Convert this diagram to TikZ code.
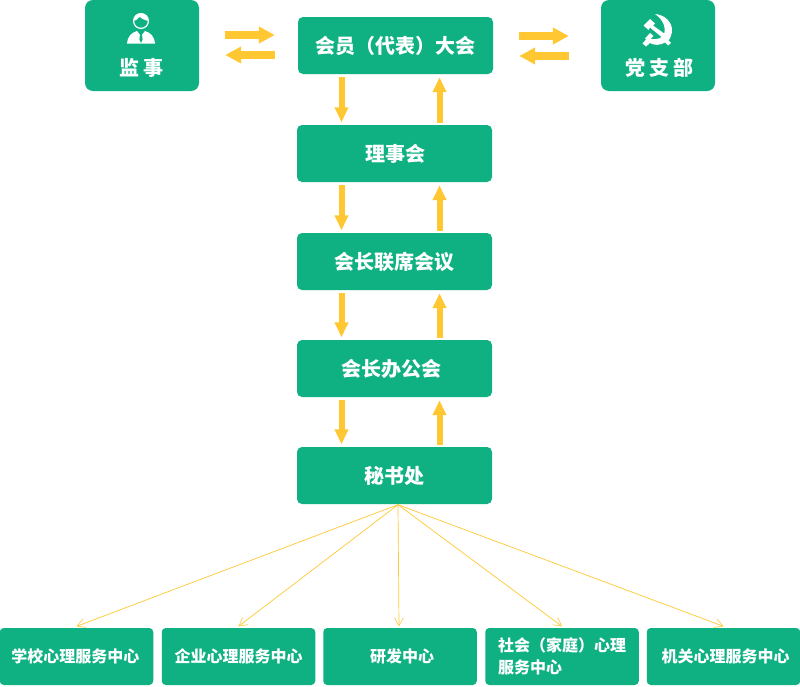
\documentclass[tikz,border=0pt]{standalone}
\usepackage{fontspec}
\usetikzlibrary{arrows.meta,calc}
\newfontfamily\cjk{Noto Sans CJK SC}
\definecolor{boxgreen}{HTML}{0FB183}
\definecolor{amber}{HTML}{FFC832}
\newcommand{\nudge}[1]{\kern #1pt\kern #1pt\relax}
\tikzset{
  box/.style={fill=boxgreen,draw=none,rounded corners=5pt,inner sep=0pt,text=white,font=\cjk\bfseries\fontsize{20}{22}\selectfont,minimum width=195pt,minimum height=57pt},
  side/.style={box,minimum width=114pt,minimum height=91pt,rounded corners=8pt},
  leaf/.style={box,minimum width=153.5pt,minimum height=57pt,rounded corners=4pt,font=\cjk\bfseries\fontsize{16}{22}\selectfont},
  caption/.style={inner sep=0pt,text=white,font=\cjk\bfseries\fontsize{20}{22}\selectfont},
  hblock/.style={draw=amber,line width=8pt,-{Triangle[length=16pt,width=16pt]}},
  vblock/.style={draw=amber,line width=6pt,-{Triangle[length=15pt,width=13pt]}},
  thin/.style={draw=amber,line width=.7pt,-{Straight Barb[length=8pt,width=9pt,line width=.6pt]}}
}
\begin{document}
\begin{tikzpicture}[x=1pt,y=-1pt]
\useasboundingbox (0,0) rectangle (800,686);
\fill[white] (0,0) rectangle (800,686);
\node[side] (js) at (142,45.5) {};
\node[side] (dzb) at (658,45.5) {};
\node[box] (hy) at (395.5,45.5) {会员（代表）大会};
\node[box] (lsh) at (394.5,153.5) {\nudge{1}理事会};
\node[box] (lx) at (394.5,261.5) {会长联席会议};
\node[box] (bg) at (394.5,368.5) {\nudge{-3.5}会长办公会};
\node[box] (ms) at (394.5,475.5) {秘书处};
\node[leaf] (c1) at (76.5,656.5) {\nudge{-1}学校心理服务中心};
\node[leaf] (c2) at (238.5,656.5) {企业心理服务中心};
\node[leaf] (c3) at (400,656.5) {\nudge{2}研发中心};
\node[leaf,align=left] (c4) at (562,656.5) {社会（家庭）心理\\服务中心};
\node[leaf] (c5) at (723.5,656.5) {\nudge{2}机关心理服务中心};
\node[caption] (jsl) at (141,68) {监\hspace{4pt}事};
\node[caption] (dzl) at (659,68) {党\hspace{4pt}支\hspace{4pt}部};
% person icon
\fill[white] (127,43.5) .. controls (128,36) and (131,33) .. (137,31) -- (141,36) -- (145,31) .. controls (151,33) and (154,36) .. (155,43.5) -- cycle;
\fill[boxgreen] (140.2,33) -- (141.8,33) -- (142.6,39.5) -- (141,43) -- (139.4,39.5) -- cycle;
\draw[white,line width=1.2pt,fill=boxgreen] (141,21) circle (7.4pt);
\fill[white] (133.6,21) .. controls (134,15) and (138,13.6) .. (141,13.6) .. controls (145,13.6) and (148,16) .. (148.4,21) .. controls (146,20.5) and (142,19) .. (139.5,16.8) .. controls (138,19) and (136,20.5) .. (133.6,21) -- cycle;
% hammer and sickle
\fill[white] (655,14) .. controls (666,15) and (672,23) .. (672,30) .. controls (672,34) and (670.5,38) .. (668.5,40.5) -- (671,43) -- (668,45.5) -- (665,42.5) .. controls (660,45.5) and (654,45.5) .. (650,43) -- (646,46.5) -- (642.5,43.5) -- (646,39.5) -- (648,37.5) .. controls (652,40) and (659,40) .. (663,36) .. controls (667,30) and (664,20) .. (655,14) -- cycle;
\fill[white] (643.5,25.5) -- (650,19) -- (655,23.5) -- (653,25.5) -- (667,35.5) -- (664,39) -- (650,27.5) -- (648.5,30) -- cycle;
\fill[white] (650,33) -- (653.5,36) -- (648,41) -- (645,38.5) -- cycle;
% block arrows
\draw[hblock] ($(js.east)+(26,-10.5)$) -- ($(hy.west)+(-23,-10.5)$);
\draw[hblock] ($(hy.west)+(-23,9.5)$) -- ($(js.east)+(26,9.5)$);
\draw[hblock] ($(hy.east)+(26,-9.5)$) -- ($(dzb.west)+(-32,-9.5)$);
\draw[hblock] ($(dzb.west)+(-32,10.5)$) -- ($(hy.east)+(26,10.5)$);
\foreach \a/\b/\k in {hy/lsh/1,lsh/lx/0,lx/bg/0,bg/ms/0}{
  \draw[vblock] ($(\a.south)+(-53-\k,3)$) -- ($(\b.north)+(-53,-2.5)$);
  \draw[vblock] ($(\b.north)+(45,-2)$) -- ($(\a.south)+(45-\k,3)$);
}
% thin connectors
\foreach \t/\dx in {c1/0,c2/0,c3/-1,c4/0,c5/0}{
  \draw[thin] ($(ms.south)+(3.5,0.5)$) -- ($(\t.north)+(\dx,-1.5)$);
}
\end{tikzpicture}
\end{document}
